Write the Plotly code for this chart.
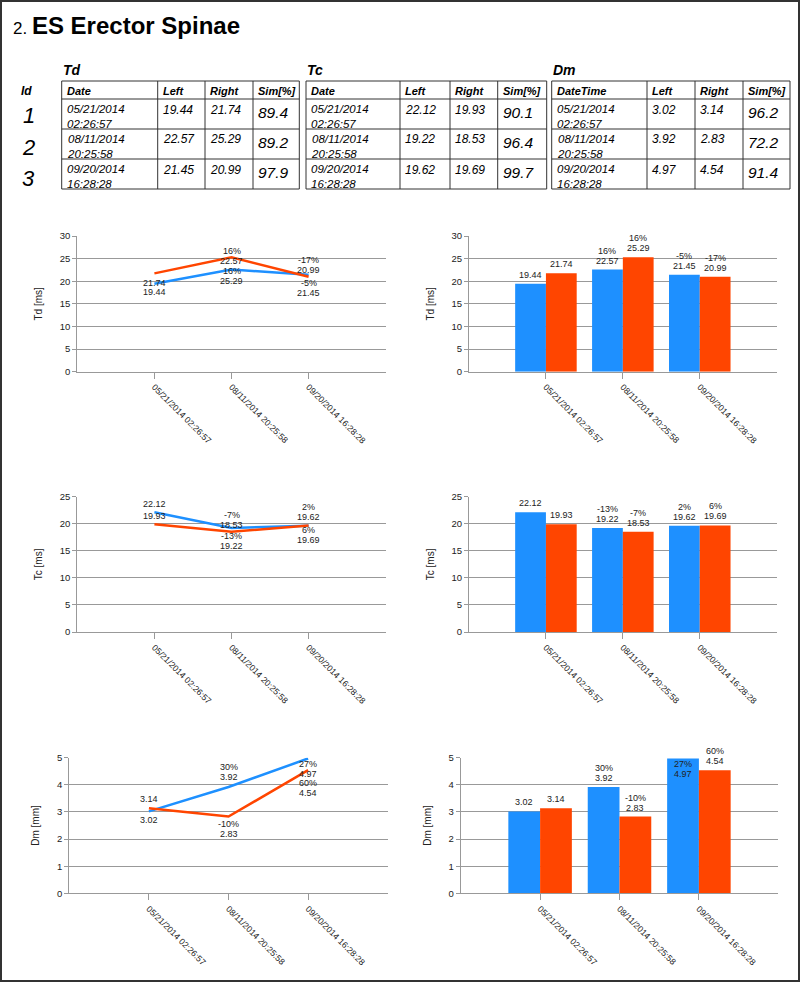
import plotly.graph_objects as go

# ---------------- data ----------------
dates = ["05/21/2014 02:26:57", "08/11/2014 20:25:58", "09/20/2014 16:28:28"]
ids = ["1", "2", "3"]

td_left = [19.44, 22.57, 21.45]
td_right = [21.74, 25.29, 20.99]
td_sim = [89.4, 89.2, 97.9]
td_left_pct = ["", "16%", "-5%"]
td_right_pct = ["", "16%", "-17%"]

tc_left = [22.12, 19.22, 19.62]
tc_right = [19.93, 18.53, 19.69]
tc_sim = [90.1, 96.4, 99.7]
tc_left_pct = ["", "-13%", "2%"]
tc_right_pct = ["", "-7%", "6%"]

dm_left = [3.02, 3.92, 4.97]
dm_right = [3.14, 2.83, 4.54]
dm_sim = [96.2, 72.2, 91.4]
dm_left_pct = ["", "30%", "27%"]
dm_right_pct = ["", "-10%", "60%"]

# ---------------- style ----------------
W, H = 800, 982
FONT = "Liberation Sans, Arial, Helvetica, sans-serif"
BLUE = "#1E90FF"
RED = "#FF4500"
GRID = "#999999"
TXT = "#222222"
TBL = "#333333"

def px(x):
    return x / W

def py(y):
    return 1 - y / H

fig = go.Figure()
annotations = []
shapes = []

def ptext(x, y, text, size, xanchor="left", color="black"):
    annotations.append(dict(x=px(x), y=py(y), xref="paper", yref="paper", xanchor=xanchor,
                            yanchor="middle", align="left", text=text, showarrow=False,
                            font=dict(size=size, color=color, family=FONT)))

def pline(x0, y0, x1, y1):
    shapes.append(dict(type="line", xref="paper", yref="paper", x0=px(x0), y0=py(y0),
                       x1=px(x1), y1=py(y1), line=dict(color=TBL, width=1)))

# ---------------- tables ----------------
ROWS = [81, 99, 129, 159, 189]
tables = [
    ("Td", "Date", td_left, td_right, td_sim, [61.7, 157.7, 205, 253, 299.3]),
    ("Tc", "Date", tc_left, tc_right, tc_sim, [306, 400, 450, 497.7, 546.7]),
    ("Dm", "DateTime", dm_left, dm_right, dm_sim, [551.7, 647, 695, 743, 790]),
]
for name, dlabel, left, right, sim, cols in tables:
    for y in ROWS:
        pline(cols[0], y, cols[-1], y)
    for x in cols:
        pline(x, ROWS[0], x, ROWS[-1])
    ptext(cols[0] - 1, 70, "<b><i>%s</i></b>" % name, 14)
    for c, h in enumerate([dlabel, "Left", "Right", "Sim[%]"]):
        ptext(cols[c] + 3, 91, "<b><i>%s</i></b>" % h, 11)
    for r in range(3):
        top = ROWS[r + 1]
        ptext(cols[0] + 3, top + 17.5, "<i>%s</i>" % dates[r].replace(" ", "<br>"), 11.5)
        ptext(cols[1] + 3, top + 10.5, "<i>%.2f</i>" % left[r], 12)
        ptext(cols[2] + 3, top + 10.5, "<i>%.2f</i>" % right[r], 12)
        ptext(cols[3] + 3, top + 13.5, "<i>%.1f</i>" % sim[r], 15.5)

ptext(26, 91.5, "<b><i>Id</i></b>", 12, xanchor="center")
for i, idv in enumerate(ids):
    ptext(29, [115, 147.5, 178][i], "<i>%s</i>" % idv, 22, xanchor="center")

# title
ptext(11, 26, "<span style='font-size:17px'>2. </span><b>ES Erector Spinae</b>", 24)

# ---------------- charts ----------------
# (label, left, right, left_pct, right_pct, ymax, dtick, y-domain px, line x px, bar x px)
charts = [
    ("Td [ms]", td_left, td_right, td_left_pct, td_right_pct, 30, 5, (236, 371.7), (77.3, 385.7), (469, 776.7)),
    ("Tc [ms]", tc_left, tc_right, tc_left_pct, tc_right_pct, 25, 5, (496.7, 632), (77.3, 385.7), (469, 776.7)),
    ("Dm [mm]", dm_left, dm_right, dm_left_pct, dm_right_pct, 5, 1, (757.7, 893.3), (69.3, 387.7), (460.7, 778.3)),
]
# pixel offsets of the value text from its line point (positive = up)
line_shift = [
    ([-8, 9, -18], [-10, -24, 7]),
    ([8, -18, 8.5], [8, 7, -15]),
    ([-8.6, 9.6, -15], [9, -17.5, -23]),
]

layout_axes = {}
ax = 1
lab_font = dict(size=9, color=TXT, family=FONT)
for ci, (title, left, right, lpct, rpct, ymax, dtick, (yt, yb), lxd, bxd) in enumerate(charts):
    ppu = (yb - yt) / ymax
    for kind, xd in (("line", lxd), ("bar", bxd)):
        xa, ya = "x%d" % ax, "y%d" % ax
        if kind == "line":
            fig.add_trace(go.Scatter(x=dates, y=left, mode="lines", line=dict(color=BLUE, width=2.5),
                                     xaxis=xa, yaxis=ya, showlegend=False, hoverinfo="skip"))
            fig.add_trace(go.Scatter(x=dates, y=right, mode="lines", line=dict(color=RED, width=2.5),
                                     xaxis=xa, yaxis=ya, showlegend=False, hoverinfo="skip"))
            for series, pcts, shifts in ((left, lpct, line_shift[ci][0]), (right, rpct, line_shift[ci][1])):
                for i, v in enumerate(series):
                    annotations.append(dict(x=i, y=v, xref=xa, yref=ya, text="%g" % v, showarrow=False,
                                            yshift=shifts[i], font=lab_font))
                    if pcts[i]:
                        annotations.append(dict(x=i, y=v, xref=xa, yref=ya, text=pcts[i], showarrow=False,
                                                yshift=shifts[i] + 10, font=lab_font))
        else:
            fig.add_trace(go.Bar(x=dates, y=left, marker=dict(color=BLUE, line=dict(width=0)),
                                 xaxis=xa, yaxis=ya, showlegend=False, hoverinfo="skip"))
            fig.add_trace(go.Bar(x=dates, y=right, marker=dict(color=RED, line=dict(width=0)),
                                 xaxis=xa, yaxis=ya, showlegend=False, hoverinfo="skip"))
            for off, series, pcts in ((-0.2, left, lpct), (0.2, right, rpct)):
                for i, v in enumerate(series):
                    inside = (ymax - v) * ppu < 8
                    vs = -15 if inside else 9
                    annotations.append(dict(x=i + off, y=v, xref=xa, yref=ya, text="%g" % v, showarrow=False,
                                            yshift=vs, font=lab_font))
                    if pcts[i]:
                        annotations.append(dict(x=i + off, y=v, xref=xa, yref=ya, text=pcts[i], showarrow=False,
                                                yshift=vs + 10, font=lab_font))
        key = "" if ax == 1 else str(ax)
        layout_axes["xaxis" + key] = dict(
            domain=[px(xd[0]), px(xd[1])], anchor=ya, type="category", range=[-1, 3],
            tickangle=45, tickfont=dict(size=8.7, color=TXT, family=FONT),
            showline=True, linecolor=GRID, linewidth=1, ticks="outside", ticklen=6, tickcolor=GRID,
            showgrid=False, zeroline=False, automargin=False, fixedrange=True)
        layout_axes["yaxis" + key] = dict(
            domain=[py(yb), py(yt)], anchor=xa, range=[0, ymax], dtick=dtick,
            tickfont=dict(size=9.5, color=TXT, family=FONT),
            showline=True, linecolor=GRID, linewidth=1, ticks="outside", ticklen=4, tickcolor=GRID,
            showgrid=True, gridcolor=GRID, gridwidth=1, zeroline=False, automargin=False,
            title=dict(text=title, standoff=15, font=dict(size=10, color=TXT, family=FONT)),
            fixedrange=True)
        ax += 1

shapes.append(dict(type="rect", xref="paper", yref="paper", x0=px(1), x1=px(799), y0=py(981), y1=py(1),
                   line=dict(color="#333333", width=2), fillcolor="rgba(0,0,0,0)", layer="above"))

fig.update_layout(
    width=W, height=H, margin=dict(l=0, r=0, t=0, b=0),
    paper_bgcolor="white", plot_bgcolor="white",
    barmode="group", bargap=0.2, bargroupgap=0,
    showlegend=False, annotations=annotations, shapes=shapes,
    font=dict(family=FONT, color=TXT),
    **layout_axes,
)

fig.write_html("out.html", config={"displayModeBar": False},
               post_script="document.body.style.margin='0';document.body.style.overflow='hidden';")
